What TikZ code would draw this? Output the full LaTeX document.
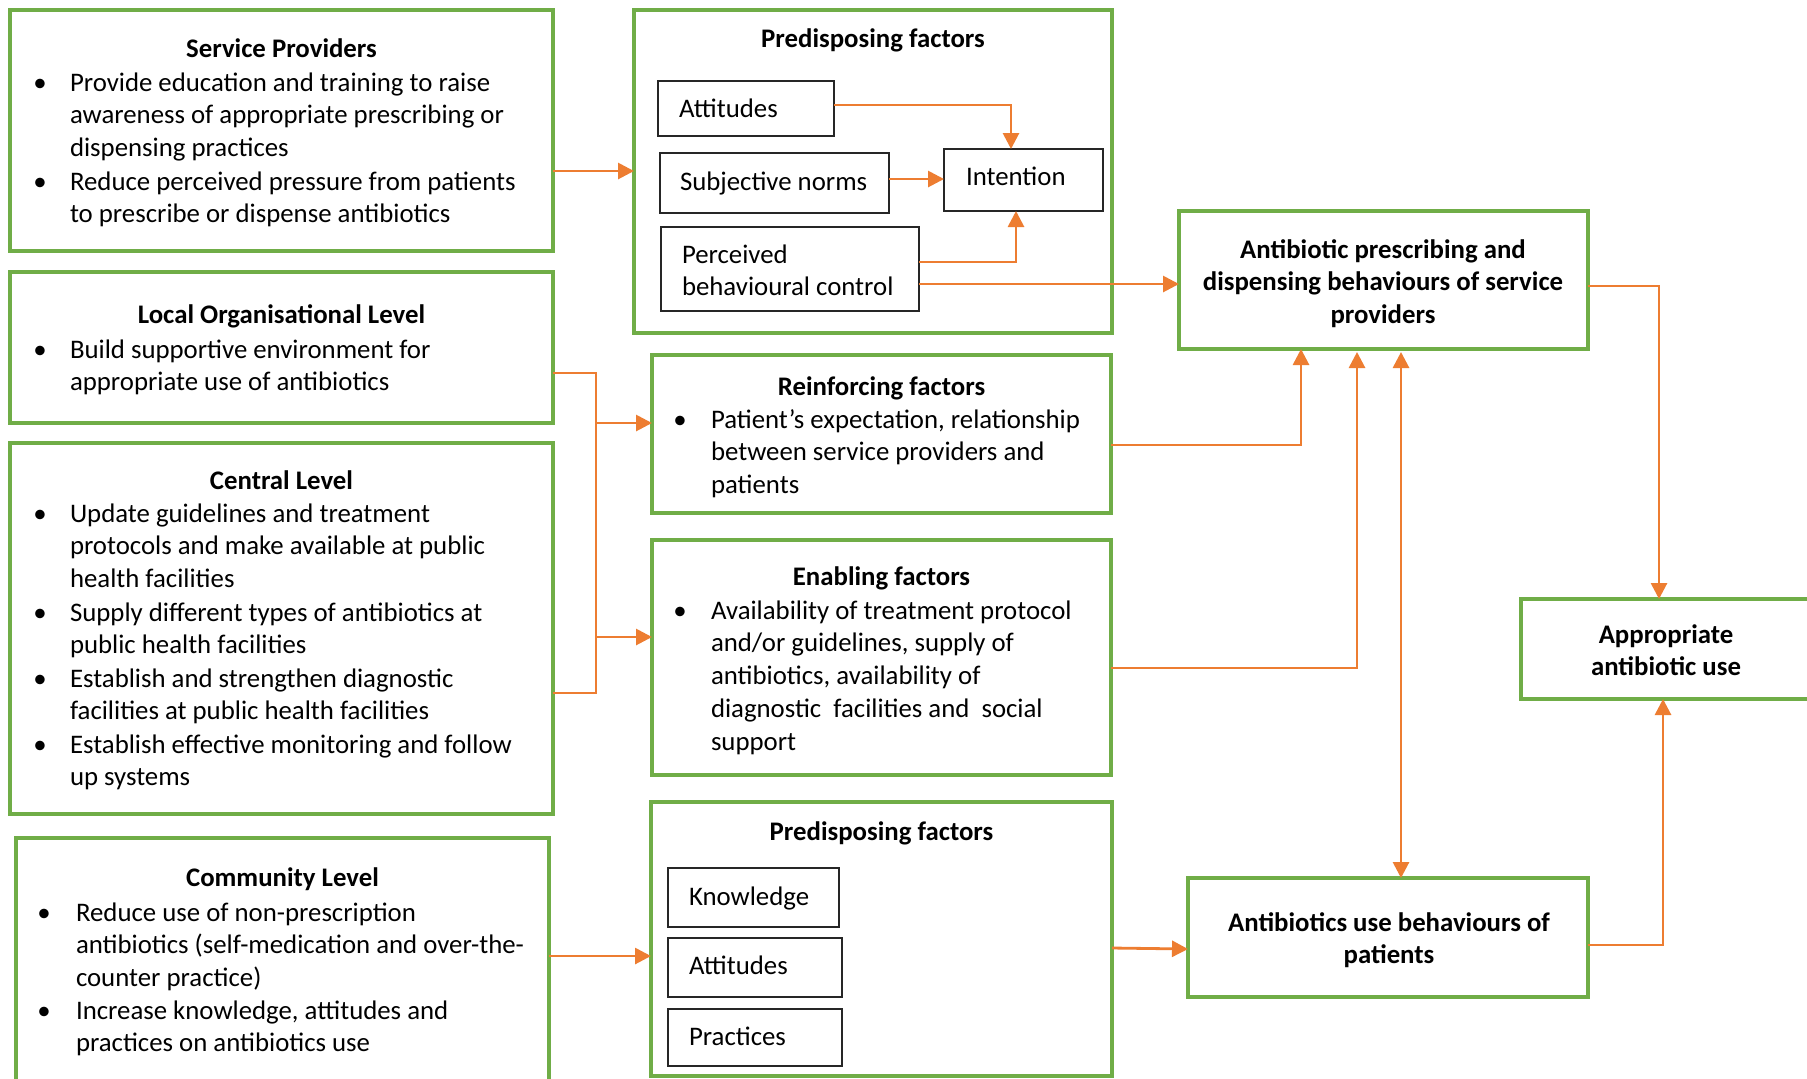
\documentclass[tikz,border=0pt]{standalone}
\usepackage{fontspec}
\setmainfont{Carlito}
\usetikzlibrary{arrows.meta,fit}
\definecolor{ogreen}{HTML}{70AD47}
\definecolor{oorange}{HTML}{ED7D31}
% multi-line blocks whose reference point is the baseline of their first line
\newcommand{\leftlines}[1]{\begin{tabular}[t]{@{}l@{}}#1\end{tabular}}
\newcommand{\midlines}[1]{\begin{tabular}[t]{@{}c@{}}#1\end{tabular}}
\begin{document}
\begin{tikzpicture}[x=0.5pt,y=-0.5pt,
  every node/.style={inner sep=0pt, outer sep=0pt, font=\fontsize{13.4pt}{16.4pt}\selectfont},
  gbox/.style={draw=ogreen, line width=2pt},
  kbox/.style={draw=black!85, line width=0.9pt},
  head/.style={anchor=base, yshift=-0.5pt, font=\fontsize{13.4pt}{16.4pt}\selectfont\bfseries},
  body/.style={anchor=base west, yshift=-0.5pt},
  dot/.style={anchor=base, yshift=-0.5pt},
  wire/.style={draw=oorange, line width=1.4pt},
  arrowline/.style={wire, -{Triangle[length=8pt,width=8pt]}},
  twoway/.style={wire, {Triangle[length=8pt,width=8pt]}-{Triangle[length=8pt,width=8pt]}}
]
\useasboundingbox (0,0) rectangle (1807,1078);
\fill[white] (0,0) rectangle (1807,1078);
\clip (0,0) rectangle (1807,1078);

% ---------- intervention levels (left column) ----------
\node[gbox, fit={(10,10) (553,251)}] (sp) {};
\node[head] (sp-t) at (281.5,56) {Service Providers};
\node[dot] (sp-d1) at (40,90) {\textbullet};
\node[body] (sp-1) at (70,90) {\leftlines{Provide education and training to raise\\awareness of appropriate prescribing or\\dispensing practices}};
\node[dot] (sp-d2) at (40,189) {\textbullet};
\node[body] (sp-2) at (70,189) {\leftlines{Reduce perceived pressure from patients\\to prescribe or dispense antibiotics}};

\node[gbox, fit={(10,272) (553,423)}] (lo) {};
\node[head] (lo-t) at (281.5,322) {Local Organisational Level};
\node[dot] (lo-d1) at (40,357) {\textbullet};
\node[body] (lo-1) at (70,357) {\leftlines{Build supportive environment for\\appropriate use of antibiotics}};

\node[gbox, fit={(10,443) (553,814)}] (cl) {};
\node[head] (cl-t) at (281.5,488) {Central Level};
\node[dot] (cl-d1) at (40,521) {\textbullet};
\node[body] (cl-1) at (70,521) {\leftlines{Update guidelines and treatment\\protocols and make available at public\\health facilities}};
\node[dot] (cl-d2) at (40,620) {\textbullet};
\node[body] (cl-2) at (70,620) {\leftlines{Supply different types of antibiotics at\\public health facilities}};
\node[dot] (cl-d3) at (40,686) {\textbullet};
\node[body] (cl-3) at (70,686) {\leftlines{Establish and strengthen diagnostic\\facilities at public health facilities}};
\node[dot] (cl-d4) at (40,752) {\textbullet};
\node[body] (cl-4) at (70,752) {\leftlines{Establish effective monitoring and follow\\up systems}};

\node[gbox, fit={(16,838) (549,1110)}] (cm) {};
\node[head] (cm-t) at (282.5,885) {Community Level};
\node[dot] (cm-d1) at (44,920) {\textbullet};
\node[body] (cm-1) at (76,920) {\leftlines{Reduce use of non-prescription\\antibiotics (self-medication and over-the-\\counter practice)}};
\node[dot] (cm-d2) at (44,1018) {\textbullet};
\node[body] (cm-2) at (76,1018) {\leftlines{Increase knowledge, attitudes and\\practices on antibiotics use}};

% ---------- determinants (middle column) ----------
\node[gbox, fit={(634,10) (1112,333)}] (pt) {};
\node[head] (pt-t) at (873,46) {Predisposing factors};
\node[kbox, fit={(658,81) (834,136)}] (att) {};
\node[body] (att-l) at (679,116) {Attitudes};
\node[kbox, fit={(660,153) (889,213)}] (sn) {};
\node[body] (sn-l) at (680,189) {Subjective norms};
\node[kbox, fit={(661,227) (919,311)}] (pbc) {};
\node[body] (pbc-l) at (682,262) {\leftlines{Perceived\\behavioural control}};
\node[kbox, fit={(944,149) (1103,211)}] (int) {};
\node[body] (int-l) at (966,184) {Intention};

\node[gbox, fit={(652,355) (1111,513)}] (rf) {};
\node[head] (rf-t) at (881.5,394) {Reinforcing factors};
\node[dot] (rf-d1) at (680,427) {\textbullet};
\node[body] (rf-1) at (711,427) {\leftlines{Patient’s expectation, relationship\\between service providers and\\patients}};

\node[gbox, fit={(652,540) (1111,775)}] (en) {};
\node[head] (en-t) at (881.5,584) {Enabling factors};
\node[dot] (en-d1) at (680,618) {\textbullet};
\node[body] (en-1) at (711,618) {\leftlines{Availability of treatment protocol\\and/or guidelines, supply of\\antibiotics, availability of\\diagnostic~ facilities and~ social\\support}};

\node[gbox, fit={(651,802) (1112,1076)}] (pb) {};
\node[head] (pb-t) at (881.5,839) {Predisposing factors};
\node[kbox, fit={(668,868) (839,927)}] (kn) {};
\node[body] (kn-l) at (689,904) {Knowledge};
\node[kbox, fit={(668,938) (842,997)}] (at2) {};
\node[body] (at2-l) at (689,973) {Attitudes};
\node[kbox, fit={(668,1009) (842,1066)}] (pr) {};
\node[body] (pr-l) at (689,1044) {Practices};

% ---------- behaviours and outcome (right) ----------
\node[gbox, fit={(1179,211) (1588,349)}] (abp) {};
\node[head] (abp-l) at (1383,257) {\midlines{Antibiotic prescribing and\\dispensing behaviours of service\\providers}};
\node[gbox, fit={(1188,878) (1588,997)}] (pat) {};
\node[head] (pat-l) at (1389,930) {\midlines{Antibiotics use behaviours of\\patients}};
\node[gbox, fit={(1521,599) (1840,699)}] (app) {};
\node[head] (app-l) at (1666,642) {\midlines{Appropriate\\antibiotic use}};

% ---------- connectors ----------
\draw[arrowline] (sp.east |- 0,171) -- (pt.west |- 0,171);

\coordinate (jn) at (596,373);
\draw[wire] (lo.east |- 0,373) -- (jn) -- (jn |- 0,693) -- (cl.east |- 0,693);
\draw[arrowline] (jn |- 0,423) -- (rf.west |- 0,423);
\draw[arrowline] (jn |- 0,637) -- (en.west |- 0,637);

\draw[arrowline] (att.east |- 0,105) -- (1011,105) -- (int.north -| 1011,0);
\draw[arrowline] (sn.east |- 0,179) -- (int.west |- 0,179);
\draw[arrowline] (pbc.east |- 0,262) -- (1016,262) -- (int.south -| 1016,0);
\draw[arrowline] (pbc.east |- 0,284) -- (abp.west |- 0,284);

\draw[arrowline] (rf.east |- 0,445) -- (1301,445) -- (abp.south -| 1301,0);
\draw[arrowline, shorten >=1.5pt] (en.east |- 0,668) -- (1357,668) -- (abp.south -| 1357,0);
\draw[twoway, shorten <=1.5pt] (abp.south -| 1401,0) -- (pat.north -| 1401,0);

\draw[arrowline] (abp.east |- 0,286) -- (1659,286) -- (app.north -| 1659,0);
\draw[arrowline] (pat.east |- 0,945) -- (1663,945) -- (app.south -| 1663,0);

\draw[arrowline] (cm.east |- 0,956) -- (pb.west |- 0,956);
\draw[arrowline] (pb.east |- 0,948) -- (pat.west |- 0,949);
\end{tikzpicture}
\end{document}
